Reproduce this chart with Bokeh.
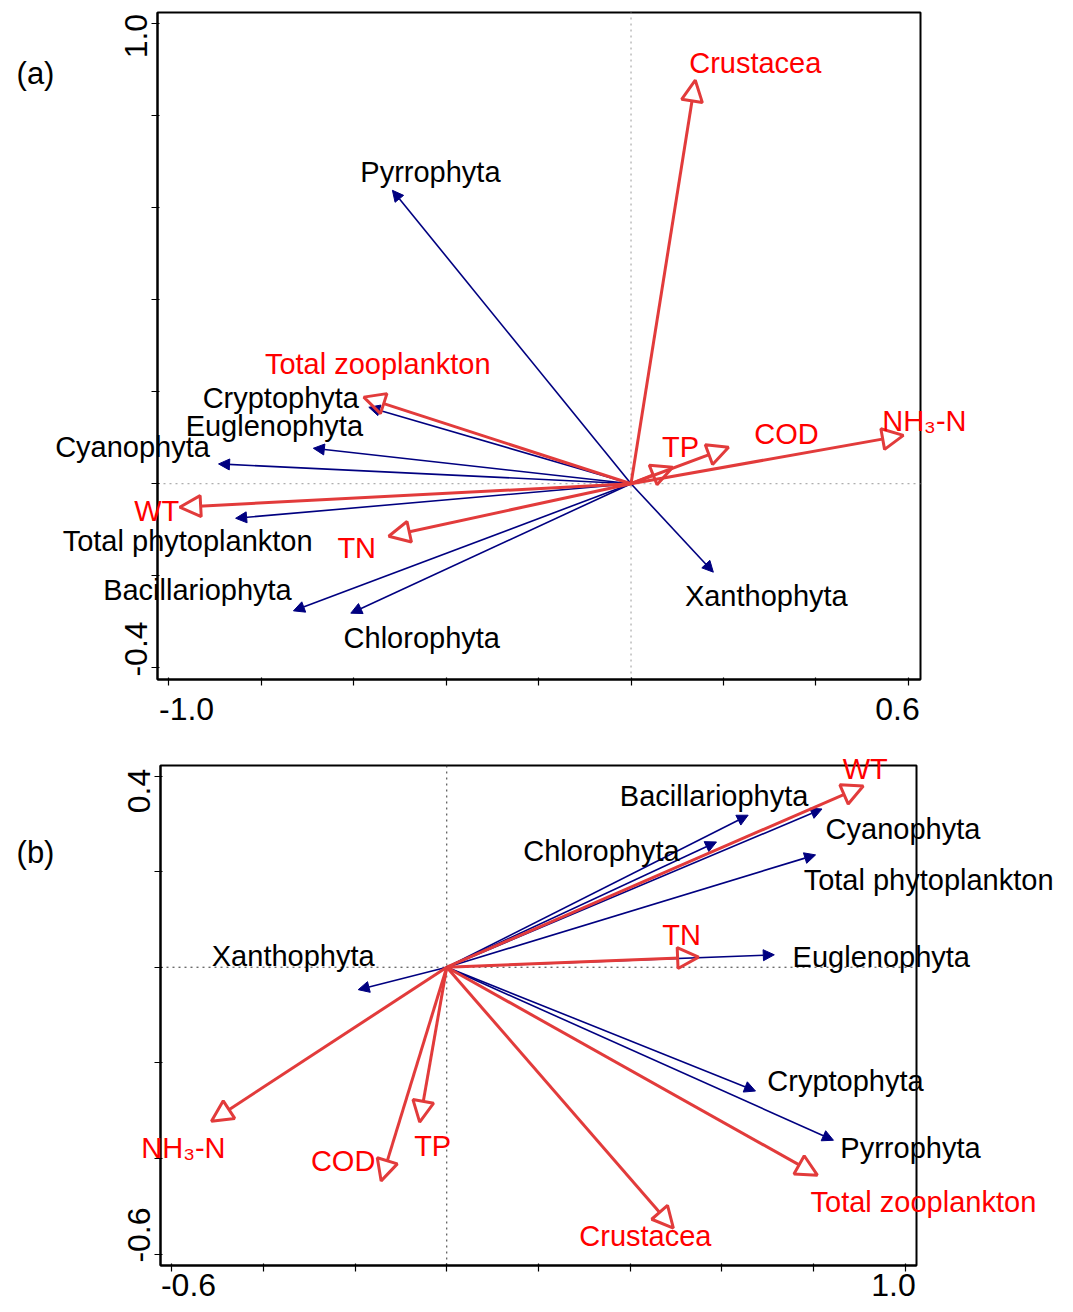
from bokeh.plotting import figure
from bokeh.models import (Arrow, NormalHead, LabelSet, Label, ColumnDataSource,
                          FixedTicker, Range1d, BoxAnnotation, LinearAxis)
from bokeh.core.properties import value
from bokeh.layouts import column
from bokeh.embed import file_html
from bokeh.resources import INLINE

# ---------------- data: panel (a) ----------------
a_species = ["Pyrrophyta", "Cryptophyta", "Euglenophyta", "Cyanophyta",
             "Total phytoplankton", "Bacillariophyta", "Chlorophyta", "Xanthophyta"]
a_species_x = [-0.516, -0.567, -0.687, -0.892, -0.855, -0.730, -0.606, 0.178]
a_species_y = [0.637, 0.166, 0.077, 0.043, -0.075, -0.276, -0.281, -0.192]

a_env = ["Crustacea", "Total zooplankton", "WT", "TN", "TP", "COD", "NH₃-N"]
a_env_x = [0.139, -0.578, -0.976, -0.524, 0.090, 0.211, 0.589]
a_env_y = [0.876, 0.188, -0.051, -0.114, 0.036, 0.079, 0.105]

a_box = (-1.024, 0.626, -0.425, 1.023)          # axis limits (x0, x1, y0, y1)
a_xticks = [-1.0, -0.8, -0.6, -0.4, -0.2, 0.0, 0.2, 0.4, 0.6]
a_yticks = [-0.4, -0.2, 0.0, 0.2, 0.4, 0.6, 0.8, 1.0]
a_xlabels = {-1.0: "-1.0", 0.6: "0.6"}
a_ylabels = {-0.4: "-0.4", 1.0: "1.0"}

# ---------------- data: panel (b) ----------------
b_species = ["Bacillariophyta", "Chlorophyta", "Cyanophyta", "Total phytoplankton",
             "Euglenophyta", "Xanthophyta", "Cryptophyta", "Pyrrophyta"]
b_species_x = [0.657, 0.588, 0.818, 0.804, 0.714, -0.193, 0.673, 0.843]
b_species_y = [0.318, 0.262, 0.331, 0.235, 0.026, -0.047, -0.259, -0.362]

b_env = ["WT", "TN", "NH₃-N", "TP", "COD", "Crustacea", "Total zooplankton"]
b_env_x = [0.908, 0.549, -0.513, -0.059, -0.143, 0.494, 0.808]
b_env_y = [0.379, 0.021, -0.322, -0.324, -0.447, -0.546, -0.435]

b_box = (-0.624, 1.024, -0.624, 0.422)
b_xticks = [-0.6, -0.4, -0.2, 0.0, 0.2, 0.4, 0.6, 0.8, 1.0]
b_yticks = [-0.6, -0.4, -0.2, 0.0, 0.2, 0.4]
b_xlabels = {-0.6: "-0.6", 1.0: "1.0"}
b_ylabels = {-0.6: "-0.6", 0.4: "0.4"}

# ---------------- label placement (screen px offsets from arrow tip, y down) ----------------
a_species_off = {"Pyrrophyta": (38, -18), "Cryptophyta": (-88, -9), "Euglenophyta": (-39, -22),
                 "Cyanophyta": (-86, -17), "Total phytoplankton": (-48, 23),
                 "Bacillariophyta": (-96, -21), "Chlorophyta": (71, 25), "Xanthophyta": (53, 24)}
a_env_off = {"Crustacea": (60, -17), "Total zooplankton": (14, -33), "WT": (-23, 4),
             "TN": (-32, 12), "TP": (8, -20), "COD": (58, -13), "NH₃-N": (21, -14)}
b_species_off = {"Bacillariophyta": (-34, -19), "Chlorophyta": (-115, 9), "Cyanophyta": (81, 20),
                 "Total phytoplankton": (113, 25), "Euglenophyta": (107, 2),
                 "Xanthophyta": (-65, -34), "Cryptophyta": (90, -10), "Pyrrophyta": (77, 8)}
b_env_off = {"WT": (2, -17), "TN": (-17, -22), "NH₃-N": (-28, 27), "TP": (13, 24),
             "COD": (-38, -20), "Crustacea": (-28, 8), "Total zooplankton": (106, 27)}
# end tick labels are pulled inwards towards the box corners (px: first, last)
a_xlab_shift, a_ylab_shift = (18, -11), (19, -13)
b_xlab_shift, b_ylab_shift = (17, -12), (19, -15)

FONT = "Liberation Sans"
RED_LINE = "#E23B3B"
RED_TEXT = "#FF0000"
BLUE = "#000080"
W = 1065


def style_axis(ax):
    ax.major_label_text_font = FONT
    ax.major_label_text_font_size = "32px"
    ax.major_label_text_color = "black"
    ax.minor_tick_out = 0
    ax.minor_tick_in = 0


def make_panel(names_s, xs, ys, off_s, names_e, xe, ye, off_e, box, box_px, H,
               xticks, yticks, xlab, ylab, xshift, yshift, x_standoff, cross_color, tag, tag_px):
    x0, x1, y0, y1 = box
    L, R, T, B = box_px                      # box position on the canvas (px)
    kx = (x1 - x0) / (R - L)
    ky = (y1 - y0) / (B - T)
    xr = (x0 - L * kx, x1 + (W - R) * kx)
    yr = (y0 - (H - B) * ky, y1 + T * ky)

    p = figure(width=W, height=H, output_backend="svg", toolbar_location=None,
               x_range=Range1d(*xr), y_range=Range1d(*yr),
               min_border_left=0, min_border_right=0, min_border_top=0, min_border_bottom=0)
    p.grid.visible = False
    p.outline_line_color = None
    p.background_fill_color = "white"
    p.border_fill_color = "white"

    # tick-mark axes (no labels)
    p.xaxis.fixed_location = y0
    p.yaxis.fixed_location = x0
    p.xaxis.bounds = (x0, x1)
    p.yaxis.bounds = (y0, y1)
    for ax, ticks in ((p.xaxis[0], xticks), (p.yaxis[0], yticks)):
        ax.ticker = FixedTicker(ticks=ticks, minor_ticks=[])
        ax.major_label_overrides = {t: "" for t in ticks}
        ax.major_tick_out = 6
        ax.major_tick_in = 2
        ax.axis_line_width = 2
        ax.major_tick_line_width = 1.2
        style_axis(ax)

    # label axes: end labels nudged inwards as in the original figure
    xl = sorted(xlab)
    xpos = [xl[0] + xshift[0] * kx, xl[-1] + xshift[1] * kx]
    xax = LinearAxis(fixed_location=y0, bounds=(x0, x1),
                     ticker=FixedTicker(ticks=xpos, minor_ticks=[]),
                     major_label_overrides={xpos[0]: xlab[xl[0]], xpos[1]: xlab[xl[-1]]},
                     major_tick_out=0, major_tick_in=0, axis_line_color=None,
                     major_label_standoff=x_standoff)
    style_axis(xax)
    p.add_layout(xax, "below")

    yl = sorted(ylab)
    ypos = [yl[0] + yshift[0] * ky, yl[-1] + yshift[1] * ky]
    yax = LinearAxis(fixed_location=x0, bounds=(y0, y1),
                     ticker=FixedTicker(ticks=ypos, minor_ticks=[]),
                     major_label_overrides={ypos[0]: ylab[yl[0]], ypos[1]: ylab[yl[-1]]},
                     major_tick_out=0, major_tick_in=0, axis_line_color=None,
                     major_label_standoff=10, major_label_orientation="vertical")
    style_axis(yax)
    p.add_layout(yax, "left")

    # plot box
    p.add_layout(BoxAnnotation(left=x0, right=x1, bottom=y0, top=y1, fill_alpha=0,
                               line_color="black", line_alpha=1.0, line_width=2,
                               level="underlay"))
    # zero lines inside the box
    p.segment(x0=[x0, 0], y0=[0, y0], x1=[x1, 0], y1=[0, y1], line_color=cross_color,
              line_width=1, line_dash="dotted")

    # species arrows (blue)
    src_s = ColumnDataSource(dict(x0=[0.0] * len(xs), y0=[0.0] * len(xs), x=xs, y=ys, name=names_s,
                                  dx=[off_s[n][0] for n in names_s],
                                  dy=[-off_s[n][1] for n in names_s]))
    p.add_layout(Arrow(end=NormalHead(size=11, fill_color=BLUE, line_color=BLUE, line_width=1),
                       x_start="x0", y_start="y0", x_end="x", y_end="y", source=src_s,
                       line_color=BLUE, line_width=1.6))
    # environmental arrows (red)
    src_e = ColumnDataSource(dict(x0=[0.0] * len(xe), y0=[0.0] * len(xe), x=xe, y=ye, name=names_e,
                                  dx=[off_e[n][0] for n in names_e],
                                  dy=[-off_e[n][1] for n in names_e]))
    p.add_layout(Arrow(end=NormalHead(size=21, fill_alpha=0, line_color=RED_LINE, line_width=3),
                       x_start="x0", y_start="y0", x_end="x", y_end="y", source=src_e,
                       line_color=RED_LINE, line_width=3))

    p.add_layout(LabelSet(x="x", y="y", text="name", x_offset="dx", y_offset="dy", source=src_s,
                          text_font=value(FONT), text_font_size=value("29px"), text_color="black",
                          text_align="center", text_baseline="middle"))
    p.add_layout(LabelSet(x="x", y="y", text="name", x_offset="dx", y_offset="dy", source=src_e,
                          text_font=value(FONT), text_font_size=value("29px"), text_color=RED_TEXT,
                          text_align="center", text_baseline="middle"))
    p.add_layout(Label(x=x0 + (tag_px[0] - L) * kx, y=y1 - (tag_px[1] - T) * ky, text=tag,
                       text_font=FONT, text_font_size="31px", text_color="black",
                       text_align="center", text_baseline="middle"))
    return p


# panel (a): canvas at page (0, 0), box at page x 157-920, y 12-679
pa = make_panel(a_species, a_species_x, a_species_y, a_species_off,
                a_env, a_env_x, a_env_y, a_env_off,
                a_box, (157, 920, 12, 679), 740,
                a_xticks, a_yticks, a_xlabels, a_ylabels, a_xlab_shift, a_ylab_shift, 18,
                "#999999", "(a)", (35, 73))

# panel (b): canvas at page (0, 740), box at page x 160-916, y 765-1265
pb = make_panel(b_species, b_species_x, b_species_y, b_species_off,
                b_env, b_env_x, b_env_y, b_env_off,
                b_box, (160, 916, 25, 525), 571,
                b_xticks, b_yticks, b_xlabels, b_ylabels, b_xlab_shift, b_ylab_shift, 8,
                "#333333", "(b)", (35, 112))

layout = column(pa, pb, spacing=0)
open("out.html", "w").write(file_html(layout, INLINE))
